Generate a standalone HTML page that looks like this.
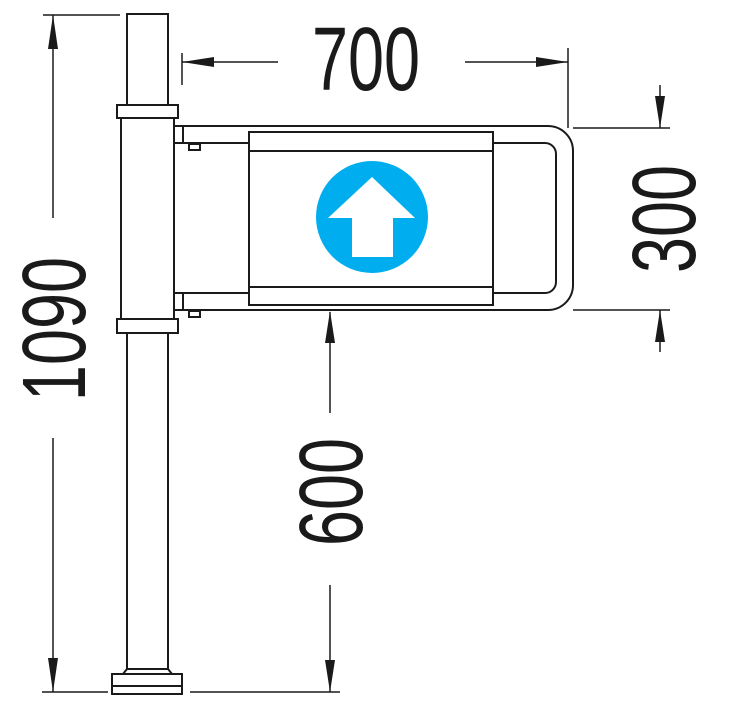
<!DOCTYPE html>
<html><head><meta charset="utf-8"><style>html,body{margin:0;padding:0;background:#fff}svg{display:block}</style></head>
<body>
<svg width="730" height="708" viewBox="0 0 730 708" xmlns="http://www.w3.org/2000/svg">
<g fill="none" stroke="#1a1a1a" stroke-width="2">
<!-- post -->
<rect x="127" y="14" width="41" height="91"/>
<rect x="117" y="105" width="61" height="13"/>
<rect x="121" y="118" width="53" height="201"/>
<rect x="117" y="319" width="61" height="14"/>
<line x1="127" y1="333" x2="127" y2="669"/>
<line x1="168" y1="333" x2="168" y2="669"/>
<path d="M127 669 L123 674 L172 674 L168 669 Z"/>
<rect x="112" y="674" width="70" height="20"/>
<line x1="112" y1="686" x2="182" y2="686"/>
<!-- frame -->
<path d="M174 126 H548 A25 25 0 0 1 573 151 V285 A25 25 0 0 1 548 310 H174"/>
<path d="M183 143 H545 A11 11 0 0 1 556 154 V282 A11 11 0 0 1 545 293 H183"/>
<rect x="174" y="126" width="9" height="17"/>
<rect x="174" y="293" width="9" height="17"/>
<rect x="189" y="144" width="11" height="6"/>
<rect x="189" y="311" width="11" height="6"/>
<rect x="249" y="132" width="244" height="173" fill="#fff"/>
<line x1="249" y1="151" x2="493" y2="151"/>
<line x1="249" y1="287" x2="493" y2="287"/>
</g>
<circle cx="372" cy="217" r="56" fill="#00aeef"/>
<path d="M372 177 L415 218 L393 218 L393 257 L352 257 L352 218 L328 218 Z" fill="#fff"/>
<!-- dimension lines -->
<g stroke="#1a1a1a" stroke-width="1.5" fill="none">
<line x1="43" y1="15" x2="120" y2="15"/>
<line x1="53" y1="15" x2="53" y2="218"/>
<line x1="53" y1="438" x2="53" y2="692"/>
<line x1="42" y1="692" x2="108" y2="692"/>
<line x1="190" y1="692" x2="340" y2="692"/>
<line x1="330" y1="312" x2="330" y2="413"/>
<line x1="330" y1="585" x2="330" y2="692"/>
<line x1="182" y1="53" x2="182" y2="85"/>
<line x1="182" y1="62" x2="278" y2="62"/>
<line x1="465" y1="62" x2="568" y2="62"/>
<line x1="568" y1="48" x2="568" y2="128"/>
<line x1="573" y1="128" x2="670" y2="128"/>
<line x1="573" y1="310" x2="670" y2="310"/>
<line x1="660" y1="85" x2="660" y2="128"/>
<line x1="660" y1="310" x2="660" y2="352"/>
</g>
<g fill="#1a1a1a">
<path d="M53 15 L48 49 L58 49 Z"/>
<path d="M53 692 L48 658 L58 658 Z"/>
<path d="M330 311 L325 343 L335 343 Z"/>
<path d="M330 692 L325 660 L335 660 Z"/>
<path d="M182 62 L214 57 L214 67 Z"/>
<path d="M568 62 L536 57 L536 67 Z"/>
<path d="M660 128 L655 96 L665 96 Z"/>
<path d="M660 310 L655 342 L665 342 Z"/>
</g>
<g font-family="'Liberation Sans', sans-serif" font-size="90" fill="#1a1a1a" text-anchor="middle">
<text transform="translate(366,90) scale(0.72,1)" x="0" y="0">700</text>
<text transform="translate(695,219) rotate(-90) scale(0.72,1)" x="0" y="0">300</text>
<text transform="translate(85,329) rotate(-90) scale(0.72,1)" x="0" y="0">1090</text>
<text transform="translate(362,492) rotate(-90) scale(0.72,1)" x="0" y="0">600</text>
</g>
</svg>
</body></html>
